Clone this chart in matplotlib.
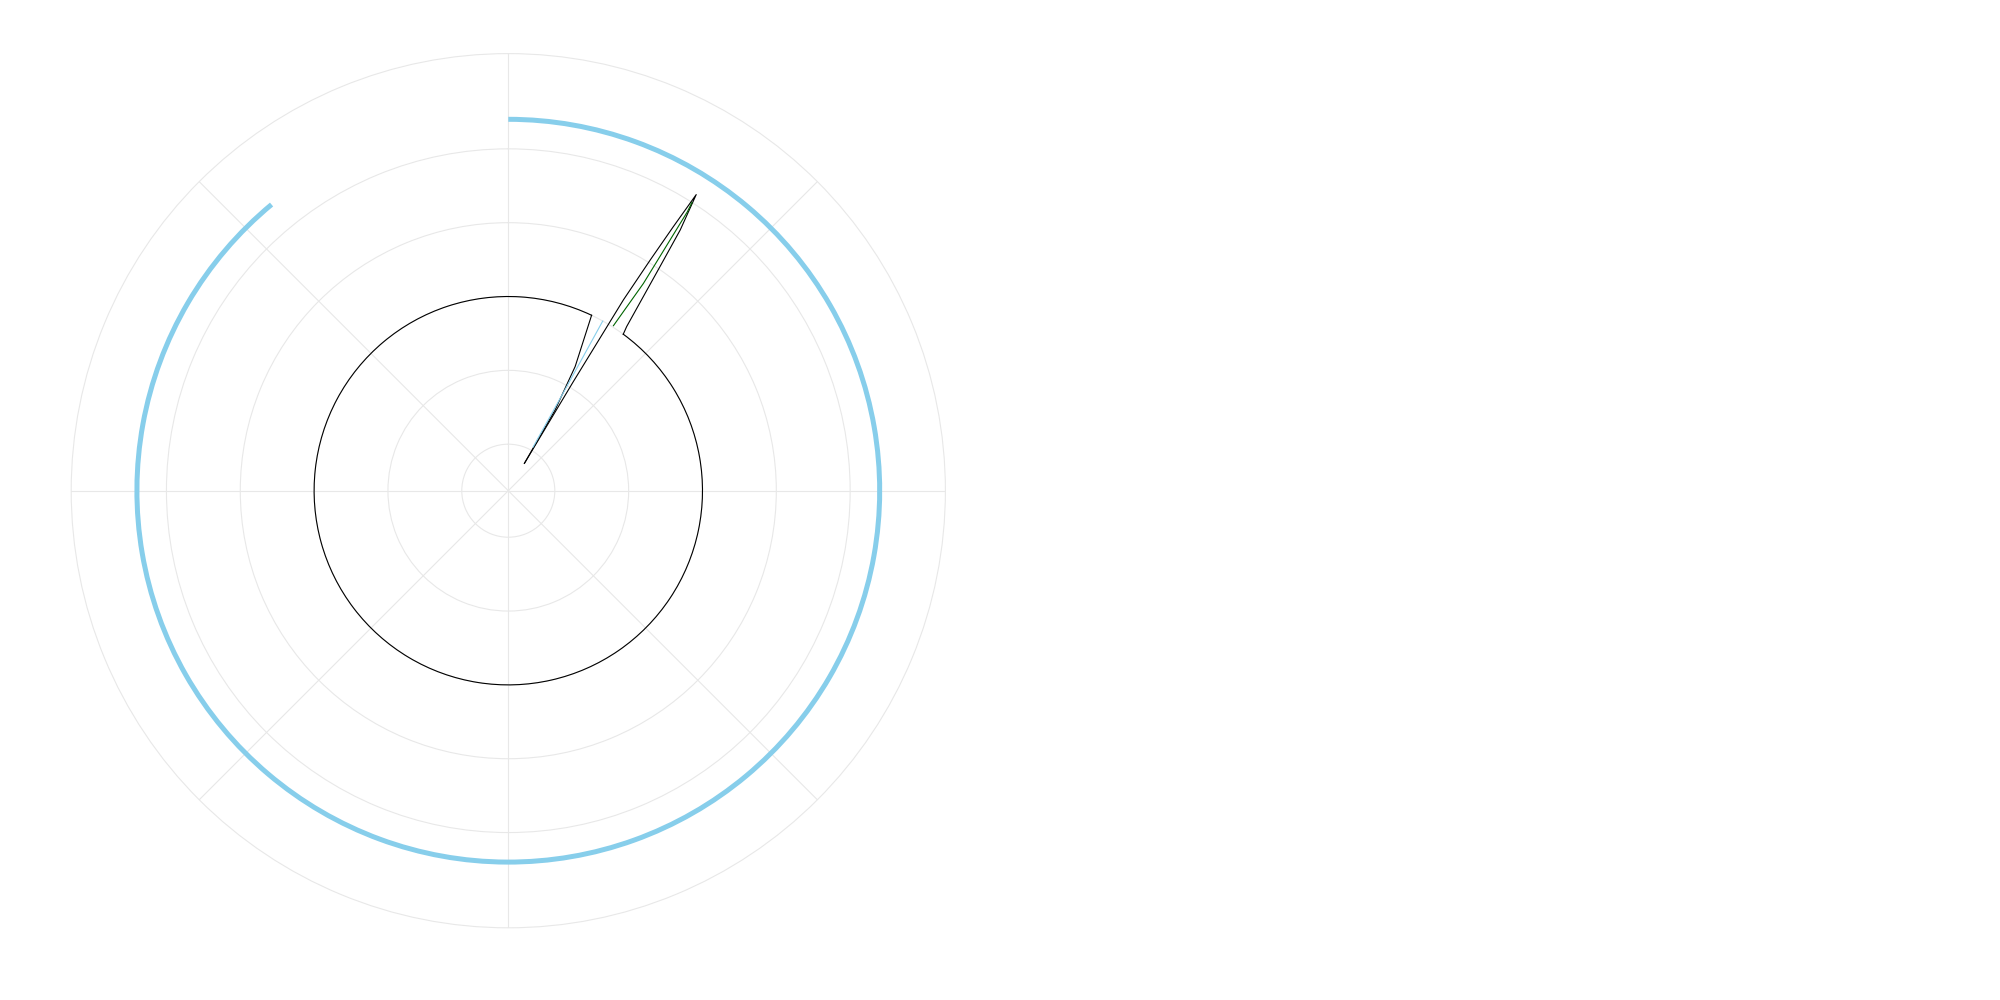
import numpy as np
import matplotlib
matplotlib.use('Agg')
import matplotlib.pyplot as plt

# radial grid values and limits
r_ticks = [1, 2, 3, 4, 5]
r_min, r_max = 0.37, 6.29

# thick sky-blue arc (theta in degrees, clockwise from north)
arc_theta = [0, 320.4]
arc_r = [5.4, 5.4]

# black ring (goes anticlockwise from the needle's left side to its right side)
ring_theta = [25.4, -323.7]
ring_r = [3.0, 3.0]

# black needle edges
short_edge_theta = [30.5, 30.1, 28.3, 25.4]
short_edge_r = [0.80, 1.63, 2.28, 3.0]
long_edge_theta = [36.3, 35.8, 34.1, 33.4, 32.4, 32.0, 31.6, 31.1, 30.8, 30.5]
long_edge_r = [3.0, 3.11, 4.03, 4.6, 5.12, 4.58, 4.04, 3.39, 2.09, 0.80]

# thin lines inside the needle
blue_theta = [29.1, 29.3, 29.6]
blue_r = [3.0, 2.0, 1.05]
green_theta = [32.5, 33.1, 32.7, 32.5]
green_r = [3.02, 3.72, 4.86, 5.0]

fig = plt.figure(figsize=(20, 10), dpi=100)
ax = fig.add_axes([0.0356, 0.0722, 0.4371, 0.8742], projection='polar')
ax.set_theta_zero_location('N')
ax.set_theta_direction(-1)

arcs = []
arcs += ax.plot(np.radians(arc_theta), arc_r, color='#87ceeb', lw=3.6, solid_capstyle='butt')
arcs += ax.plot(np.radians(ring_theta), ring_r, color='black', lw=0.8)
# draw these as true arcs (same trick matplotlib uses for polar bars)
for ln in arcs:
    ln.get_path()._interpolation_steps = 180

ax.plot(np.radians(short_edge_theta), short_edge_r, color='black', lw=0.8)
ax.plot(np.radians(long_edge_theta), long_edge_r, color='black', lw=0.8)
ax.plot(np.radians(blue_theta), blue_r, color='#87ceeb', lw=0.8)
ax.plot(np.radians(green_theta), green_r, color='#006400', lw=0.8)

ax.set_ylim(r_min, r_max)
ax.set_yticks(r_ticks)
ax.set_xticks(np.radians(np.arange(0, 360, 45)))
ax.set_xticklabels([])
ax.set_yticklabels([])
ax.grid(True, color='#e8e8e8', lw=0.8)
ax.spines['polar'].set_color('#e8e8e8')
ax.spines['polar'].set_linewidth(0.8)
ax.tick_params(length=0)

fig.savefig('out.png', dpi=100)
